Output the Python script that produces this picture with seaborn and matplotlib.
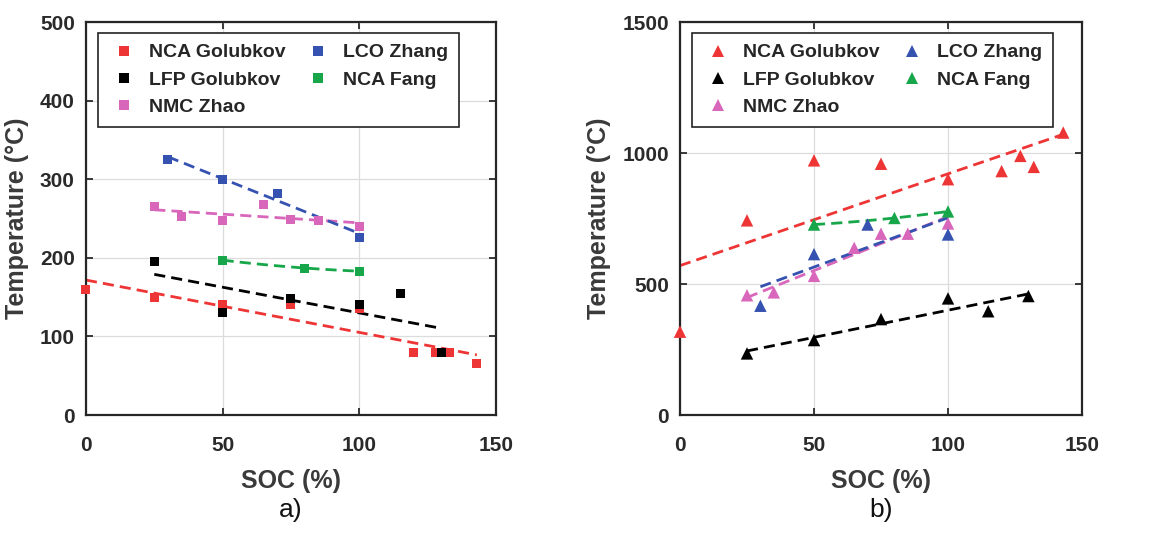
import numpy as np
import pandas as pd
import matplotlib
matplotlib.use("Agg")
import matplotlib.pyplot as plt
import seaborn as sns

sns.set_style("ticks")
plt.rcParams['font.family'] = ['Liberation Sans', 'DejaVu Sans']

series = ["NCA Golubkov", "LFP Golubkov", "NMC Zhao", "LCO Zhang", "NCA Fang"]
colors = ["#ee3535", "#000000", "#d866bb", "#3652b0", "#17a74a"]
fit_order = [1, 1, 1, 1, 2]

# Panel a: onset temperature
a_nca_gol_x = [0, 25, 50, 75, 100, 120, 128, 133, 143]
a_nca_gol_y = [160, 150, 140, 140, 135, 80, 80, 80, 65]
a_lfp_gol_x = [25, 50, 75, 100, 115, 130]
a_lfp_gol_y = [195, 130, 148, 140, 155, 80]
a_nmc_zhao_x = [25, 35, 50, 65, 75, 85, 100]
a_nmc_zhao_y = [265, 252, 248, 268, 249, 248, 240]
a_lco_zhang_x = [30, 50, 70, 100]
a_lco_zhang_y = [325, 300, 282, 226]
a_nca_fang_x = [50, 80, 100]
a_nca_fang_y = [197, 187, 183]

# Panel b: maximum temperature
b_nca_gol_x = [0, 25, 50, 75, 100, 120, 127, 132, 143]
b_nca_gol_y = [318, 743, 972, 959, 900, 931, 989, 947, 1078]
b_lfp_gol_x = [25, 50, 75, 100, 115, 130]
b_lfp_gol_y = [235, 286, 366, 445, 396, 454]
b_nmc_zhao_x = [25, 35, 50, 65, 75, 85, 100]
b_nmc_zhao_y = [457, 468, 531, 638, 692, 692, 731]
b_lco_zhang_x = [30, 50, 70, 100]
b_lco_zhang_y = [417, 614, 727, 689]
b_nca_fang_x = [50, 80, 100]
b_nca_fang_y = [727, 752, 777]

a_x = [a_nca_gol_x, a_lfp_gol_x, a_nmc_zhao_x, a_lco_zhang_x, a_nca_fang_x]
a_y = [a_nca_gol_y, a_lfp_gol_y, a_nmc_zhao_y, a_lco_zhang_y, a_nca_fang_y]
b_x = [b_nca_gol_x, b_lfp_gol_x, b_nmc_zhao_x, b_lco_zhang_x, b_nca_fang_x]
b_y = [b_nca_gol_y, b_lfp_gol_y, b_nmc_zhao_y, b_lco_zhang_y, b_nca_fang_y]

xticks = [0, 50, 100, 150]
a_yticks = [0, 100, 200, 300, 400, 500]
b_yticks = [0, 500, 1000, 1500]


def make_df(xs, ys):
    rows = []
    for name, x, y in zip(series, xs, ys):
        for xi, yi in zip(x, y):
            rows.append((name, xi, yi))
    return pd.DataFrame(rows, columns=["series", "SOC", "T"])


fig = plt.figure(figsize=(11.71, 5.41), dpi=100)
ax_a = fig.add_axes([0.0734, 0.2329, 0.3501, 0.7264])
ax_b = fig.add_axes([0.5807, 0.2329, 0.3433, 0.7264])

tick_color = "#2a2a2a"
label_color = "#3a3a3a"

for ax, xs, ys, marker, ms, yticks, tag in [
    (ax_a, a_x, a_y, "s", 42, a_yticks, "a)"),
    (ax_b, b_x, b_y, "^", 80, b_yticks, "b)"),
]:
    df = make_df(xs, ys)
    for name, col, order in zip(series, colors, fit_order):
        sub = df[df.series == name]
        sns.regplot(data=sub, x="SOC", y="T", ax=ax, scatter=False, ci=None,
                    order=order, color=col,
                    line_kws=dict(lw=2, ls=(0, (4, 2.2))))
    sns.scatterplot(data=df, x="SOC", y="T", hue="series", hue_order=series,
                    palette=colors, marker=marker, s=ms, linewidth=0,
                    ax=ax, zorder=3, clip_on=False)
    ax.set_xlim(0, 150)
    ax.set_ylim(yticks[0], yticks[-1])
    ax.set_xticks(xticks)
    ax.set_yticks(yticks)
    ax.grid(True, color="#dcdcdc", lw=0.9)
    ax.set_axisbelow(True)
    for sp in ax.spines.values():
        sp.set_visible(True)
        sp.set_color("#262626")
        sp.set_linewidth(1.6)
    ax.tick_params(direction="in", length=5, width=1.3, top=True, right=True,
                   labelsize=15, colors=tick_color, pad=8)
    ax.tick_params(axis="x", pad=15)
    for lab in ax.get_xticklabels() + ax.get_yticklabels():
        lab.set_fontweight("bold")
    ax.set_xlabel("SOC (%)", fontsize=18, color=label_color, labelpad=10)
    ax.set_ylabel("Temperature (°C)", fontsize=18, color=label_color,
                  fontweight="bold", labelpad=8)
    ax.xaxis.label.set_fontweight("bold")
    handles, labels = ax.get_legend_handles_labels()
    leg = ax.legend(handles, labels, ncol=2, loc="upper left",
                    bbox_to_anchor=(0.029, 0.972), borderaxespad=0,
                    frameon=True, fancybox=False, framealpha=1,
                    edgecolor="#222222",
                    prop=dict(size=14, weight="bold"), markerscale=1.0,
                    handletextpad=0.5, columnspacing=0.85, labelspacing=0.5,
                    borderpad=0.55, handlelength=1.6)
    leg.get_frame().set_linewidth(1.2)
    pos = ax.get_position()
    fig.text((pos.x0 + pos.x1) / 2, 0.057, tag, ha="center", va="center",
             fontsize=19, color="#111111")

fig.savefig("out.png", dpi=100)
